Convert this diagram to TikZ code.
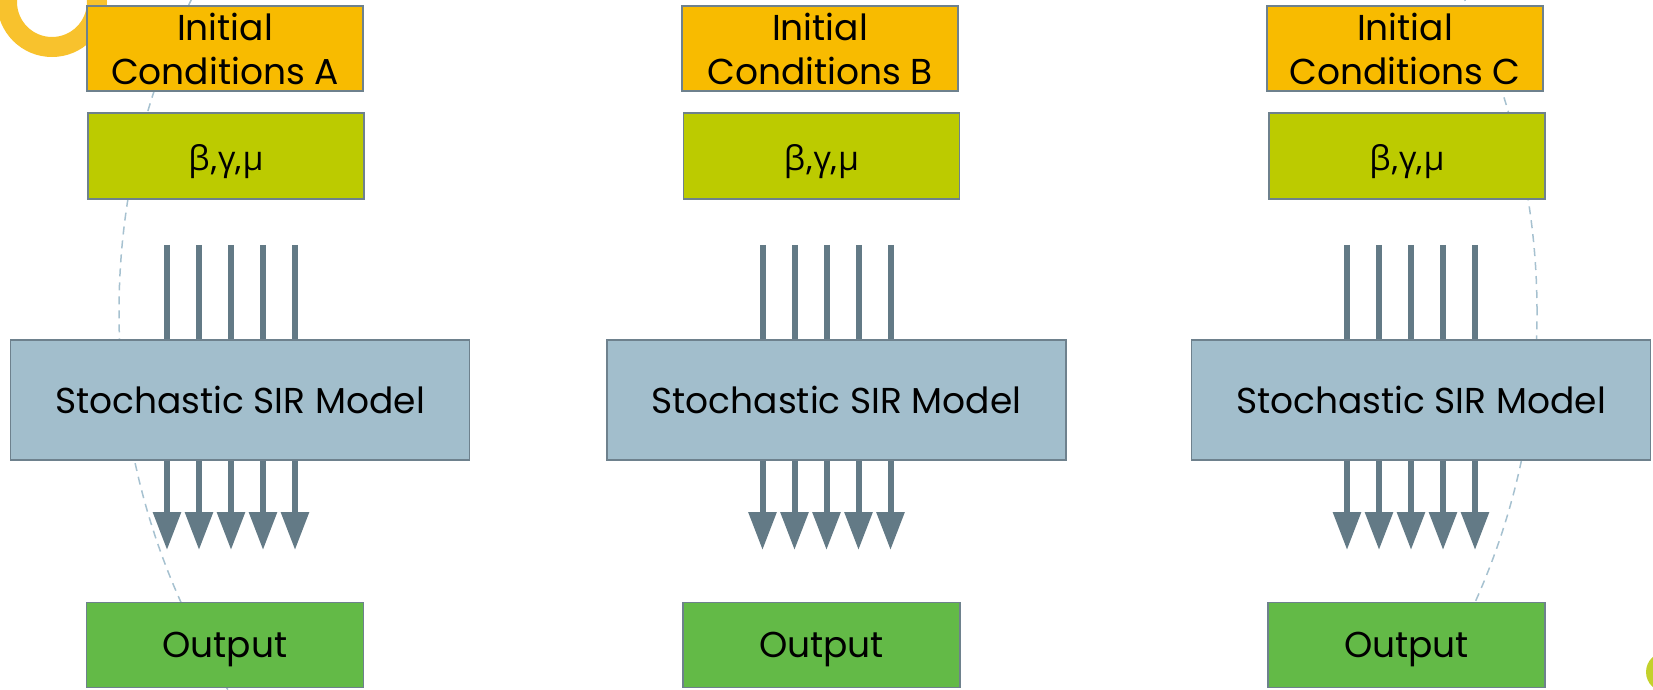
\documentclass[tikz,border=0pt]{standalone}
\usepackage{fontspec}
\setmainfont{Poppins}
\newfontfamily\greekfont{Open Sans}
\usepackage{xcolor}
\usetikzlibrary{arrows.meta,positioning}

\definecolor{initcol}{HTML}{F8BB00}
\definecolor{parcol}{HTML}{BCCB00}
\definecolor{sircol}{HTML}{A2BECC}
\definecolor{outcol}{HTML}{63BA47}
\definecolor{boxline}{HTML}{6E818D}
\definecolor{feedcol}{HTML}{637A86}
\definecolor{ringcol}{HTML}{F8C22D}
\definecolor{limecol}{HTML}{C3D12B}
\definecolor{arccol}{HTML}{A6C1D0}

\newcommand{\params}{\raisebox{-6pt}[\height][\depth]{\greekfont\fontsize{34}{44}\selectfont β,γ,μ}}
\newcommand{\outtext}{\raisebox{-4pt}[\height][\depth]{Output}}

\begin{document}
\begin{tikzpicture}[x=1pt,y=1pt,
    box/.style={draw=boxline,line width=1.5pt,inner sep=0pt,align=center,
                font=\fontsize{36}{44}\selectfont},
    init/.style={box,fill=initcol,minimum width=276pt,minimum height=85pt},
    par/.style={box,fill=parcol,minimum width=276pt,minimum height=86pt},
    sir/.style={box,fill=sircol,minimum width=459pt,minimum height=120pt},
    outp/.style={box,fill=outcol,minimum width=277pt,minimum height=85pt},
    feed/.style={draw=feedcol,line width=6pt},
    tip/.style={-{Triangle[width=27pt,length=38pt]},feedcol}]
                        \useasboundingbox (0,0) rectangle (1653,689);
                        \begin{scope}
                            \clip (0,0) rectangle (1653,689);
                            \draw[arccol,line width=1.5pt,dash pattern=on 8pt off 6pt] (828,377) circle (709);
                            \draw[ringcol,line width=20pt] (52,687) circle (45);
                            \fill[limecol] (1666,17) circle (20);
                        \end{scope}

                        \node[init] (initA) at (225,640.5) {Initial\\Conditions A};
                        \node[init] (initB) at (820,640.5) {Initial\\Conditions B};
                        \node[init] (initC) at (1405,640.5) {Initial\\Conditions C};

                        \node[par] (parA) at (226,533) {\params};
                        \node[par] (parB) at (821.5,533) {\params};
                        \node[par] (parC) at (1407,533) {\params};

                        \node[sir] (sirA) at (240,289) {Stochastic SIR Model};
                        \node[sir] (sirB) at (836.5,289) {Stochastic SIR Model};
                        \node[sir] (sirC) at (1421,289) {Stochastic SIR Model};

                        \node[outp] (outA) at (225,44) {\outtext};
                        \node[outp] (outB) at (821.5,44) {\outtext};
                        \node[outp] (outC) at (1406.5,44) {\outtext};

                        \coordinate (topA) at (231,444);
                        \coordinate (topB) at (826.5,444);
                        \coordinate (topC) at (1411,444);
                        \coordinate (tipA) at (231,139);
                        \coordinate (tipB) at (826.5,139);
                        \coordinate (tipC) at (1411,139);

                        \foreach \col in {A,B,C}
                            \foreach \d in {-64,-32,0,32,64} {
                                \draw[feed] ([xshift=\d pt]top\col) -- ([xshift=\d pt]top\col |- sir\col.north);
                                \draw[feed,tip] ([xshift=\d pt]tip\col |- sir\col.south) -- ([xshift=\d pt]tip\col);
                            }
                    \end{tikzpicture}
\end{document}
